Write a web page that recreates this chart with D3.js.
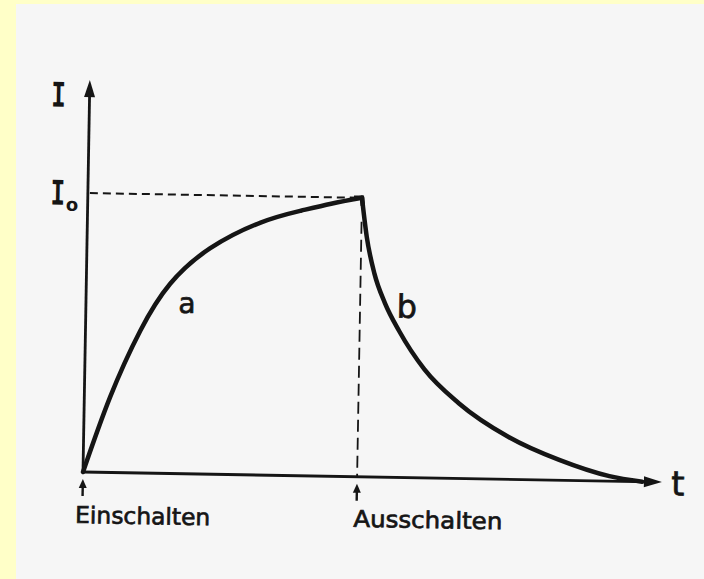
<!DOCTYPE html>
<html>
<head>
<meta charset="utf-8">
<script src="https://cdn.jsdelivr.net/npm/d3@7"></script>
<style>
  html, body { margin: 0; padding: 0; background: #ffffc8; }
  svg { display: block; }
</style>
</head>
<body>
<svg id="chart" width="704" height="579"></svg>
<script>
// Switching current: rise after switch-on (a), decay after switch-off (b)
const tCharge = [0, 0.47, 1.0, 1.53, 2.25, 3.16, 3.89, 4.44, 5.0];
const iCharge = [0, 0.27, 0.51, 0.68, 0.81, 0.905, 0.95, 0.977, 1.0];
const tDecay  = [5.0, 5.1, 5.25, 5.45, 5.72, 6.19, 6.83, 7.75, 8.68, 9.6, 10.2];
const iDecay  = [1.0, 0.86, 0.73, 0.625, 0.525, 0.39, 0.27, 0.152, 0.073, 0.018, 0.0];
const tSwitchOn = 0;
const tSwitchOff = 5.0;
const iMax = 1.0;
const curveLabels = ["a", "b"];
const eventLabels = ["Einschalten", "Ausschalten"];
const axisLabels = { x: "t", y: "I", sub: "o" };

const svg = d3.select("#chart");
const W = 704, H = 579;
const ink = "#151515";

// page background
svg.append("rect").attr("width", W).attr("height", H).attr("fill", "#ffffc8");
svg.append("rect").attr("x", 16).attr("y", 4).attr("width", W - 16).attr("height", H - 4)
  .attr("fill", "#f6f6f6");

// plot frame: origin of the axes, slightly tilted
const g = svg.append("g").attr("transform", "translate(83,472) rotate(1)");

const x = d3.scaleLinear().domain([0, 10.56]).range([0, 579]);
const y = d3.scaleLinear().domain([0, 1.405]).range([0, -392]);

// axes with filled arrowheads
g.append("line").attr("x1", x(0)).attr("y1", 0).attr("x2", x(10.56) - 12).attr("y2", 0)
  .attr("stroke", ink).attr("stroke-width", 2.8);
g.append("path")
  .attr("d", `M${x(10.56)},0 L${x(10.56) - 18},-5.5 L${x(10.56) - 18},5.5 Z`)
  .attr("fill", ink);
g.append("line").attr("x1", 0).attr("y1", y(0)).attr("x2", 0).attr("y2", y(1.405) + 12)
  .attr("stroke", ink).attr("stroke-width", 2.8);
g.append("path")
  .attr("d", `M0,${y(1.405)} L-5.5,${y(1.405) + 17} L5.5,${y(1.405) + 17} Z`)
  .attr("fill", ink);

// guide lines at I0 and at switch-off
g.append("line").attr("x1", x(0) + 2).attr("y1", y(iMax)).attr("x2", x(tSwitchOff)).attr("y2", y(iMax))
  .attr("stroke", ink).attr("stroke-width", 2).attr("stroke-dasharray", "8,5");
g.append("line").attr("x1", x(tSwitchOff)).attr("y1", y(iMax) + 24).attr("x2", x(tSwitchOff)).attr("y2", y(0))
  .attr("stroke", ink).attr("stroke-width", 1.8).attr("stroke-dasharray", "12,6");

// curves: smooth spline for the rise, monotone for the decay
const riseLine = d3.line().x(d => x(d[0])).y(d => y(d[1])).curve(d3.curveNatural);
const decayLine = d3.line().x(d => x(d[0])).y(d => y(d[1])).curve(d3.curveMonotoneX);
g.append("path").datum(d3.zip(tCharge, iCharge)).attr("d", riseLine)
  .attr("fill", "none").attr("stroke", ink).attr("stroke-width", 4.5).attr("stroke-linecap", "round");
g.append("path").datum(d3.zip(tDecay, iDecay)).attr("d", decayLine)
  .attr("fill", "none").attr("stroke", ink).attr("stroke-width", 4.5).attr("stroke-linecap", "round");
// sharp corner at the switch-off point
g.append("path")
  .attr("d", `M${x(tSwitchOff) - 8},${y(iMax)} L${x(tSwitchOff)},${y(iMax)} L${x(tSwitchOff) + 1},${y(iMax) + 8}`)
  .attr("fill", "none").attr("stroke", ink).attr("stroke-width", 4.5).attr("stroke-linejoin", "miter");

// small event arrows below the time axis
[tSwitchOn, tSwitchOff].forEach(t => {
  g.append("line").attr("x1", x(t)).attr("y1", 13).attr("x2", x(t)).attr("y2", 24)
    .attr("stroke", ink).attr("stroke-width", 2.4);
  g.append("path").attr("d", `M${x(t)},7 L${x(t) - 4},16 L${x(t) + 4},16 Z`).attr("fill", ink);
});

const sans = "'DejaVu Sans', sans-serif";
const label = (sel) => sel.attr("font-family", sans).attr("fill", ink)
  .attr("stroke", ink).attr("stroke-width", 0.7);

label(g.append("text")).attr("x", x(tSwitchOn) - 7).attr("y", 51)
  .attr("font-size", 23).attr("textLength", 135).attr("lengthAdjust", "spacingAndGlyphs")
  .text(eventLabels[0]);
label(g.append("text")).attr("x", x(tSwitchOff) - 3).attr("y", 50)
  .attr("font-size", 23).attr("textLength", 149).attr("lengthAdjust", "spacingAndGlyphs")
  .text(eventLabels[1]);

// curve labels
label(g.append("text")).attr("x", 101).attr("y", -161).attr("text-anchor", "middle")
  .attr("font-size", 28).text(curveLabels[0]);
label(g.append("text")).attr("x", 321).attr("y", -160).attr("text-anchor", "middle")
  .attr("font-size", 32).text(curveLabels[1]);

// axis labels: serif capital I, narrowed
const mono = "'DejaVu Sans Mono', monospace";
const capI = (cx, base) => g.append("g")
  .attr("transform", `translate(${cx},${base}) scale(0.72,1)`)
  .append("text").attr("text-anchor", "middle")
  .attr("font-family", mono).attr("font-weight", "bold").attr("font-size", 34).attr("fill", ink)
  .text(axisLabels.y);
capI(-31, -365);
capI(-30, y(iMax) + 12);
g.append("text").attr("x", -15.5).attr("y", -261).attr("text-anchor", "middle")
  .attr("font-family", sans).attr("font-weight", "bold").attr("font-size", 18).attr("fill", ink)
  .text(axisLabels.sub);
label(g.append("text")).attr("x", 595).attr("y", 13).attr("text-anchor", "middle")
  .attr("font-size", 34).text(axisLabels.x);
</script>
</body>
</html>
